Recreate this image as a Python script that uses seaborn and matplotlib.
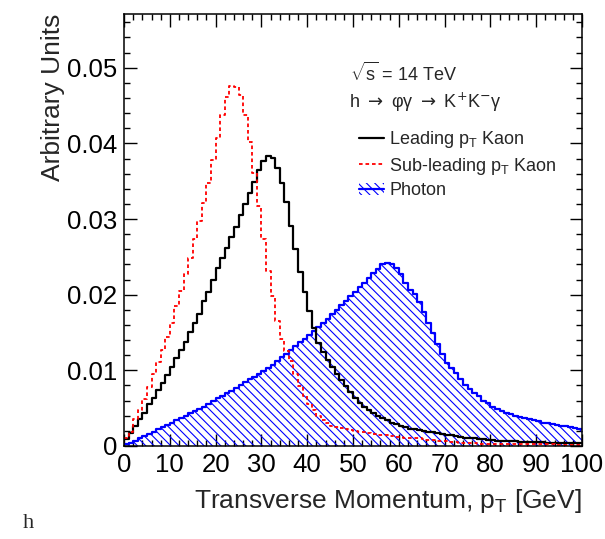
import numpy as np
import pandas as pd
import seaborn as sns
import matplotlib.pyplot as plt
from matplotlib.lines import Line2D
from matplotlib.patches import Patch
from matplotlib.ticker import MultipleLocator

sns.set_style("ticks")
plt.rcParams['font.family'] = ['Liberation Sans', 'DejaVu Sans']
plt.rcParams['mathtext.fontset'] = 'custom'
plt.rcParams['mathtext.rm'] = 'Liberation Sans'
plt.rcParams['mathtext.it'] = 'Liberation Sans:italic'
plt.rcParams['hatch.color'] = '#0000ff'
plt.rcParams['hatch.linewidth'] = 0.8

# 1 GeV bins, 0-100 GeV
bin_centers = np.arange(100) + 0.5

leading_kaon = [
    0.0009, 0.0017, 0.0026, 0.0035, 0.0044, 0.0055, 0.0064, 0.0074, 0.0083, 0.0094,
    0.0105, 0.0116, 0.0127, 0.0138, 0.0151, 0.0162, 0.0175, 0.0191, 0.0204, 0.0219,
    0.0235, 0.0248, 0.0262, 0.0276, 0.0290, 0.0305, 0.0320, 0.0334, 0.0349, 0.0365,
    0.0377, 0.0383, 0.0381, 0.0367, 0.0347, 0.0323, 0.0291, 0.0261, 0.0230, 0.0204,
    0.0178, 0.0156, 0.0136, 0.0124, 0.0113, 0.0104, 0.0095, 0.0087, 0.0079, 0.0071,
    0.0064, 0.0057, 0.0051, 0.0047, 0.0043, 0.0040, 0.0037, 0.0034, 0.0031, 0.0029,
    0.0027, 0.0025, 0.0023, 0.0022, 0.0021, 0.0020, 0.0019, 0.0018, 0.0017, 0.0016,
    0.0015, 0.0014, 0.0013, 0.0012, 0.0011, 0.0010, 0.0010, 0.0009, 0.0009, 0.0008,
    0.0008, 0.0007, 0.0007, 0.0007, 0.0006, 0.0006, 0.0005, 0.0005, 0.0005, 0.0005,
    0.0005, 0.0005, 0.0004, 0.0004, 0.0004, 0.0004, 0.0004, 0.0004, 0.0004, 0.0004,
]

subleading_kaon = [
    0.0010, 0.0018, 0.0036, 0.0047, 0.0062, 0.0078, 0.0095, 0.0111, 0.0127, 0.0144,
    0.0163, 0.0185, 0.0205, 0.0227, 0.0249, 0.0273, 0.0297, 0.0321, 0.0348, 0.0378,
    0.0407, 0.0437, 0.0461, 0.0476, 0.0474, 0.0464, 0.0437, 0.0402, 0.0361, 0.0317,
    0.0273, 0.0231, 0.0198, 0.0165, 0.0141, 0.0126, 0.0112, 0.0095, 0.0079, 0.0066,
    0.0055, 0.0047, 0.0040, 0.0034, 0.0030, 0.0027, 0.0025, 0.0024, 0.0022, 0.0021,
    0.0020, 0.0019, 0.0018, 0.0017, 0.0016, 0.0015, 0.0014, 0.0014, 0.0013, 0.0012,
    0.0012, 0.0011, 0.0011, 0.0010, 0.0010, 0.0009, 0.0008, 0.0008, 0.0007, 0.0006,
    0.0006, 0.0005, 0.0005, 0.0004, 0.0004, 0.0004, 0.0004, 0.0003, 0.0003, 0.0003,
    0.0003, 0.0003, 0.0003, 0.0002, 0.0002, 0.0002, 0.0002, 0.0002, 0.0002, 0.0002,
    0.0002, 0.0002, 0.0002, 0.0002, 0.0001, 0.0001, 0.0001, 0.0001, 0.0001, 0.0001,
]

photon = [
    0.0002, 0.0004, 0.0006, 0.0010, 0.0013, 0.0016, 0.0019, 0.0022, 0.0025, 0.0028,
    0.0031, 0.0034, 0.0037, 0.0040, 0.0043, 0.0046, 0.0049, 0.0052, 0.0056, 0.0059,
    0.0063, 0.0066, 0.0070, 0.0073, 0.0077, 0.0080, 0.0084, 0.0088, 0.0091, 0.0095,
    0.0099, 0.0103, 0.0107, 0.0112, 0.0117, 0.0122, 0.0127, 0.0132, 0.0137, 0.0142,
    0.0147, 0.0152, 0.0157, 0.0163, 0.0168, 0.0174, 0.0180, 0.0186, 0.0192, 0.0198,
    0.0204, 0.0210, 0.0216, 0.0222, 0.0228, 0.0234, 0.0240, 0.0242, 0.0241, 0.0235,
    0.0227, 0.0216, 0.0206, 0.0201, 0.0190, 0.0177, 0.0163, 0.0149, 0.0135, 0.0121,
    0.0110, 0.0103, 0.0096, 0.0089, 0.0081, 0.0075, 0.0070, 0.0066, 0.0060, 0.0057,
    0.0052, 0.0049, 0.0046, 0.0044, 0.0042, 0.0040, 0.0038, 0.0037, 0.0035, 0.0034,
    0.0033, 0.0031, 0.0030, 0.0029, 0.0028, 0.0027, 0.0026, 0.0025, 0.0024, 0.0023,
]

df = pd.DataFrame({"pt": bin_centers, "lead": leading_kaon,
                   "sub": subleading_kaon, "photon": photon})

BLUE = "#0000ff"
RED = "#ff0000"
HATCH = "\\\\\\\\"
hist_kw = dict(data=df, x="pt", binwidth=1, binrange=(0, 100), element="step")

fig = plt.figure(figsize=(6.05, 5.39), dpi=100)
ax = fig.add_axes([0.205, 0.1726, 0.757, 0.8014])

# photon: hatched fill + outline
sns.histplot(weights="photon", fill=True, color=BLUE, facecolor="none",
             edgecolor=BLUE, hatch=HATCH, linewidth=0, ax=ax, **hist_kw)
sns.histplot(weights="photon", fill=False, color=BLUE, linewidth=1.6, ax=ax, **hist_kw)
sns.histplot(weights="lead", fill=False, color="black", linewidth=1.6, ax=ax, **hist_kw)
sns.histplot(weights="sub", fill=False, color=RED, linewidth=1.3,
             linestyle=(0, (2, 1.6)), ax=ax, **hist_kw)

ax.set_xlim(0, 100)
ax.set_ylim(0, 0.0571)
ax.xaxis.set_major_locator(MultipleLocator(10))
ax.xaxis.set_minor_locator(MultipleLocator(2))
ax.yaxis.set_major_locator(MultipleLocator(0.01))
ax.yaxis.set_minor_locator(MultipleLocator(0.002))
ax.yaxis.set_major_formatter(plt.FuncFormatter(lambda v, p: "0" if abs(v) < 1e-9 else f"{v:.2f}"))
ax.tick_params(which="both", direction="in", top=True, right=True,
               width=1, colors="black", labelsize=18.5)
ax.tick_params(which="major", length=9, pad=5)
ax.tick_params(which="minor", length=4.5)
for sp in ax.spines.values():
    sp.set_linewidth(1.1)
    sp.set_color("black")

ax.set_xlabel(r"Transverse Momentum, p$_\mathregular{T}$ [GeV]", fontsize=19,
              loc="right", labelpad=7)
ax.set_ylabel("Arbitrary Units", fontsize=19, loc="top", labelpad=1)

ax.text(0.493, 0.863, r"$\sqrt{\mathregular{s}}$ = 14 TeV", transform=ax.transAxes,
        fontsize=13, va="center", ha="left")
ax.text(0.491, 0.796, r"h $\rightarrow$ φγ $\rightarrow$ K$^{+}$K$^{-}$γ",
        transform=ax.transAxes, fontsize=13, va="center", ha="left",
        math_fontfamily="dejavusans")

handles = [
    Line2D([], [], color="black", linewidth=1.6),
    Line2D([], [], color=RED, linewidth=1.3, linestyle=(0, (2, 1.6))),
    (Patch(facecolor="none", edgecolor=BLUE, hatch=HATCH, linewidth=0),
     Line2D([], [], color=BLUE, linewidth=1.6)),
]
labels = [r"Leading p$_\mathregular{T}$ Kaon", r"Sub-leading p$_\mathregular{T}$ Kaon", "Photon"]
ax.legend(handles, labels, loc="upper left", bbox_to_anchor=(0.512, 0.733),
          frameon=False, fontsize=13, handlelength=1.4, handletextpad=0.3,
          labelspacing=0.3, borderaxespad=0, borderpad=0)

fig.text(0.047, 0.028, "h", family="Liberation Serif", fontsize=16, ha="center", va="center")

fig.savefig("out.png", dpi=100)
